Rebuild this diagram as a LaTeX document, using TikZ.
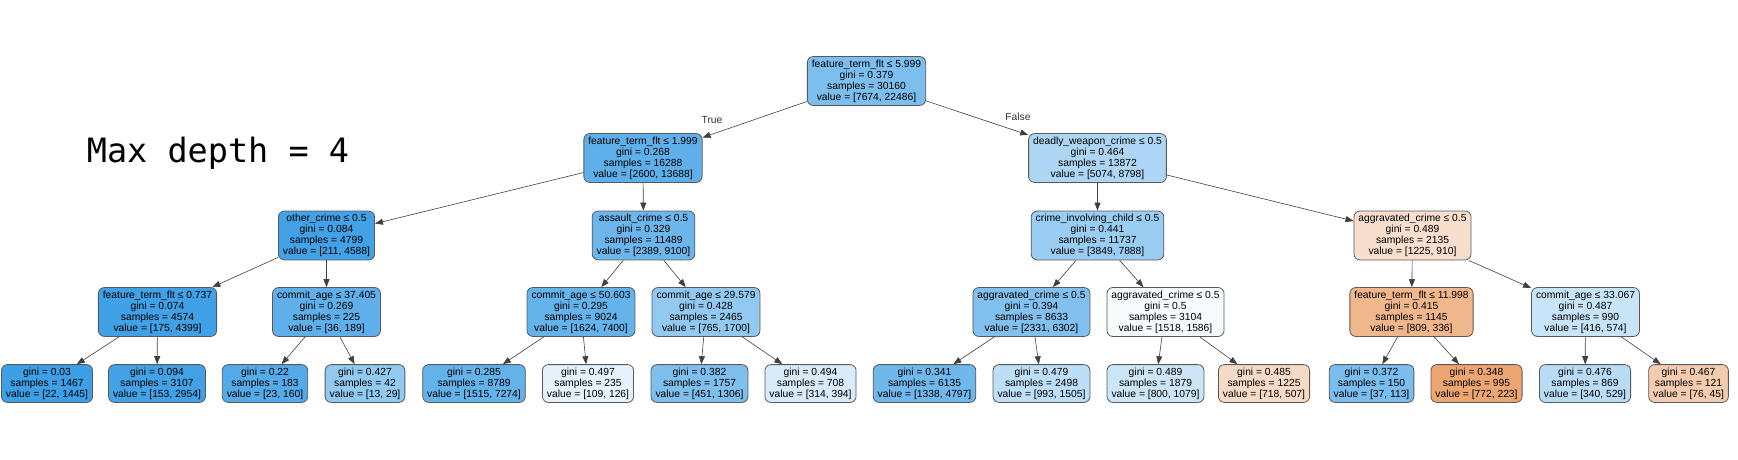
\documentclass[tikz,border=0pt]{standalone}
\usepackage{fontspec}
\setmainfont{Liberation Sans}
\newfontfamily\monofont{DejaVu Sans Mono}
\usetikzlibrary{graphs}
\usetikzlibrary{arrows.meta}
\definecolor{clsa}{HTML}{E58139}
\definecolor{clsb}{HTML}{399DE5}

\begin{document}
\begin{tikzpicture} [x=1pt, y=-1pt, >={Triangle[length=8pt,width=6pt]},
        tnode/.style={draw=black!65, line width=0.8pt, rounded corners=6pt, align=center, inner xsep=4.5pt, inner ysep=3pt, font=\fontsize{10.3}{11.1}\selectfont},
        blu/.style={tnode, fill=clsb!#1},
        org/.style={tnode, fill=clsa!#1},
        lbl/.style={font=\fontsize{10.3}{12}\selectfont, text=black!80}]
            \useasboundingbox (0,0) rectangle (1738,460);
            \node[font=\monofont\fontsize{33.5}{38}\selectfont, anchor=base] (title) at (218, 162) {Max depth = 4};

            \node[blu=66] (root) at (866.5, 81)  {feature\_term\_flt ≤ 5.999\\gini = 0.379\\samples = 30160\\value = [7674, 22486]};

            \node[blu=81] (n1) at (643, 158)     {feature\_term\_flt ≤ 1.999\\gini = 0.268\\samples = 16288\\value = [2600, 13688]};
            \node[blu=42] (n2) at (1097.5, 158)  {deadly\_weapon\_crime ≤ 0.5\\gini = 0.464\\samples = 13872\\value = [5074, 8798]};

            \node[blu=95] (n3) at (326.5, 235.5)  {other\_crime ≤ 0.5\\gini = 0.084\\samples = 4799\\value = [211, 4588]};
            \node[blu=74] (n4) at (643.5, 235.5)  {assault\_crime ≤ 0.5\\gini = 0.329\\samples = 11489\\value = [2389, 9100]};
            \node[blu=51] (n5) at (1097.5, 235.5) {crime\_involving\_child ≤ 0.5\\gini = 0.441\\samples = 11737\\value = [3849, 7888]};
            \node[org=26] (n6) at (1412.5, 235.5) {aggravated\_crime ≤ 0.5\\gini = 0.489\\samples = 2135\\value = [1225, 910]};

            \node[blu=96] (n7) at (157.5, 312)   {feature\_term\_flt ≤ 0.737\\gini = 0.074\\samples = 4574\\value = [175, 4399]};
            \node[blu=81] (n8) at (326.5, 312)   {commit\_age ≤ 37.405\\gini = 0.269\\samples = 225\\value = [36, 189]};
            \node[blu=78] (n9) at (581, 312)     {commit\_age ≤ 50.603\\gini = 0.295\\samples = 9024\\value = [1624, 7400]};
            \node[blu=55] (n10) at (706, 312)    {commit\_age ≤ 29.579\\gini = 0.428\\samples = 2465\\value = [765, 1700]};
            \node[blu=63] (n11) at (1031.5, 312) {aggravated\_crime ≤ 0.5\\gini = 0.394\\samples = 8633\\value = [2331, 6302]};
            \node[blu=4] (n12) at (1165.5, 312)  {aggravated\_crime ≤ 0.5\\gini = 0.5\\samples = 3104\\value = [1518, 1586]};
            \node[org=58] (n13) at (1411.5, 312) {feature\_term\_flt ≤ 11.998\\gini = 0.415\\samples = 1145\\value = [809, 336]};
            \node[blu=28] (n14) at (1585.5, 312) {commit\_age ≤ 33.067\\gini = 0.487\\samples = 990\\value = [416, 574]};

            \node[blu=98] (l1) at (47, 383.5)     {gini = 0.03\\samples = 1467\\value = [22, 1445]};
            \node[blu=95] (l2) at (157, 383.5)    {gini = 0.094\\samples = 3107\\value = [153, 2954]};
            \node[blu=86] (l3) at (265, 383.5)    {gini = 0.22\\samples = 183\\value = [23, 160]};
            \node[blu=55] (l4) at (365, 383.5)    {gini = 0.427\\samples = 42\\value = [13, 29]};
            \node[blu=79] (l5) at (474, 383.5)    {gini = 0.285\\samples = 8789\\value = [1515, 7274]};
            \node[blu=13] (l6) at (588, 383.5)    {gini = 0.497\\samples = 235\\value = [109, 126]};
            \node[blu=65] (l7) at (699.5, 383.5)  {gini = 0.382\\samples = 1757\\value = [451, 1306]};
            \node[blu=20] (l8) at (810.5, 383.5)  {gini = 0.494\\samples = 708\\value = [314, 394]};
            \node[blu=72] (l9) at (924.5, 383.5)  {gini = 0.341\\samples = 6135\\value = [1338, 4797]};
            \node[blu=34] (l10) at (1041.5, 383.5) {gini = 0.479\\samples = 2498\\value = [993, 1505]};
            \node[blu=26] (l11) at (1155.5, 383.5) {gini = 0.489\\samples = 1879\\value = [800, 1079]};
            \node[org=29] (l12) at (1264, 383.5)   {gini = 0.485\\samples = 1225\\value = [718, 507]};
            \node[blu=67] (l13) at (1371.5, 383.5) {gini = 0.372\\samples = 150\\value = [37, 113]};
            \node[org=71] (l14) at (1476.5, 383.5) {gini = 0.348\\samples = 995\\value = [772, 223]};
            \node[blu=36] (l15) at (1585, 383.5)   {gini = 0.476\\samples = 869\\value = [340, 529]};
            \node[org=41] (l16) at (1688.5, 383.5) {gini = 0.467\\samples = 121\\value = [76, 45]};

            \node[lbl] (t) at (712, 120)  {True};
            \node[lbl] (f) at (1018, 117) {False};

            \graph[edges={draw=black!75, line width=0.6pt}] {
                (root) -> {
                    (n1) -> {
                        (n3) -> {(n7) -> {(l1), (l2)}, (n8) -> {(l3), (l4)}},
                        (n4) -> {(n9) -> {(l5), (l6)}, (n10) -> {(l7), (l8)}}
                    },
                    (n2) -> {
                        (n5) -> {(n11) -> {(l9), (l10)}, (n12) -> {(l11), (l12)}},
                        (n6) -> {(n13) -> {(l13), (l14)}, (n14) -> {(l15), (l16)}}
                    }
                }
            };
        \end{tikzpicture}
\end{document}
